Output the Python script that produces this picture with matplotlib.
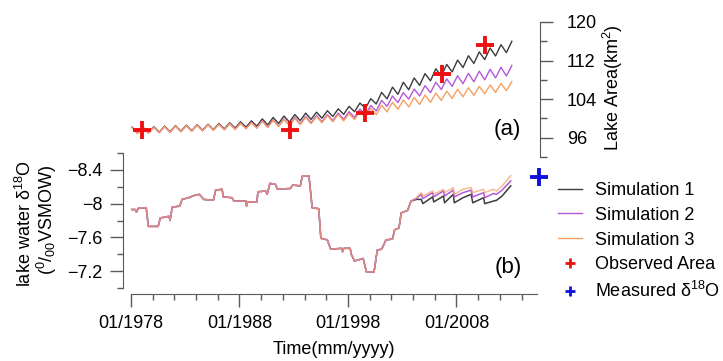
import matplotlib
matplotlib.use("Agg")
import matplotlib.pyplot as plt
from matplotlib.lines import Line2D
from matplotlib.ticker import FixedLocator, FuncFormatter

plt.rcParams['font.family'] = ['Liberation Sans', 'DejaVu Sans']
plt.rcParams['mathtext.fontset'] = 'custom'
plt.rcParams['mathtext.rm'] = 'Liberation Sans'
plt.rcParams['mathtext.it'] = 'Liberation Sans:italic'
plt.rcParams['mathtext.bf'] = 'Liberation Sans:bold'

# ---- lake area (a): yearly high (early in year) and low (mid year) ----
area_years = list(range(1978, 2014))
sim1_high = [98.2, 98.2, 98.3, 98.4, 98.5, 98.6, 98.7, 98.8, 98.95, 99.1, 99.3, 99.5,
             99.9, 100.2, 100.5, 100.8, 101.1, 101.3, 101.6, 102.0, 102.5, 103.2,
             104.1, 105.4, 106.5, 107.5, 108.4, 109.3, 110.3, 111.2, 112.1, 113.0,
             113.8, 114.6, 115.3, 116.0]
sim1_low = [97.0, 97.05, 97.15, 97.25, 97.35, 97.45, 97.55, 97.68, 97.83, 98.0, 98.2, 98.4,
            98.65, 98.95, 99.25, 99.55, 99.8, 100.05, 100.4, 100.85, 101.4, 102.1,
            103.0, 104.05, 105.0, 105.95, 106.85, 107.8, 108.75, 109.65, 110.55, 111.4,
            112.2, 112.95, 113.65]
sim2_high = [98.1, 98.1, 98.2, 98.3, 98.4, 98.5, 98.6, 98.7, 98.8, 98.9, 99.0, 99.2,
             99.5, 99.7, 99.9, 100.2, 100.4, 100.6, 100.8, 101.1, 101.4, 101.95,
             102.7, 103.75, 104.65, 105.35, 106.1, 106.8, 107.5, 108.2, 108.85, 109.35,
             109.8, 110.2, 110.6, 111.0]
sim2_low = [96.9, 96.95, 97.05, 97.15, 97.25, 97.35, 97.45, 97.55, 97.65, 97.75, 97.9, 98.05,
            98.2, 98.4, 98.65, 98.9, 99.1, 99.3, 99.55, 99.85, 100.2, 100.75,
            101.55, 102.5, 103.3, 104.0, 104.65, 105.35, 106.0, 106.65, 107.2, 107.6,
            108.0, 108.4, 108.8]
sim3_high = [98.1, 98.1, 98.2, 98.3, 98.4, 98.5, 98.6, 98.7, 98.8, 98.9, 99.0, 99.1,
             99.4, 99.6, 99.8, 100.0, 100.2, 100.4, 100.6, 100.8, 101.0, 101.45,
             102.1, 102.75, 103.35, 103.85, 104.35, 104.85, 105.25, 105.65, 106.05, 106.35,
             106.65, 106.95, 107.25, 107.65]
sim3_low = [96.9, 96.95, 97.05, 97.15, 97.25, 97.35, 97.45, 97.55, 97.65, 97.75, 97.85, 97.95,
            98.1, 98.3, 98.5, 98.7, 98.9, 99.1, 99.3, 99.5, 99.75, 100.2,
            100.75, 101.35, 101.9, 102.4, 102.9, 103.35, 103.75, 104.15, 104.5, 104.8,
            105.1, 105.4, 105.75]

obs_year = [1979.0, 1992.7, 1999.6, 2006.7, 2010.6]
obs_area = [97.65, 97.5, 101.1, 109.2, 115.3]

# ---- lake water d18O (b) ----
iso_t_common = [1978.0, 1978.4, 1978.5, 1978.7, 1979.4, 1979.6, 1980.5, 1980.7, 1981.5, 1981.6,
                1981.8, 1982.5, 1982.7, 1983.3, 1983.9, 1984.3, 1984.7, 1985.6, 1985.8, 1986.4,
                1986.5, 1987.3, 1987.5, 1988.6, 1988.65, 1988.75, 1989.6, 1989.7, 1990.4, 1990.55,
                1990.8, 1991.3, 1991.5, 1992.7, 1992.9, 1993.6, 1993.8, 1994.4, 1994.7, 1995.3,
                1995.5, 1996.1, 1996.4, 1997.4, 1997.5, 1997.6, 1998.2, 1998.3, 1998.6, 1999.4,
                1999.7, 2000.4, 2000.7, 2001.1, 2001.5, 2002.1, 2002.3, 2002.7, 2002.9, 2003.5,
                2003.8]
iso_common = [-7.93, -7.93, -7.90, -7.95, -7.95, -7.73, -7.73, -7.83, -7.85, -7.80,
              -7.96, -7.97, -8.05, -8.07, -8.10, -8.11, -8.05, -8.04, -8.16, -8.17,
              -8.08, -8.07, -8.03, -8.03, -7.97, -8.02, -8.02, -8.14, -8.15, -8.11,
              -8.24, -8.23, -8.17, -8.18, -8.22, -8.21, -8.33, -8.33, -7.95, -7.94,
              -7.59, -7.57, -7.46, -7.47, -7.43, -7.47, -7.47, -7.40, -7.32, -7.35,
              -7.19, -7.19, -7.45, -7.46, -7.57, -7.58, -7.69, -7.71, -7.89, -7.92,
              -8.03]
iso_t_late = [2004.3, 2004.75, 2004.9, 2005.8, 2005.9, 2006.8, 2006.9, 2007.7, 2007.8, 2008.6,
              2009.35, 2009.5, 2010.5, 2010.6, 2011.4, 2011.7, 2012.2, 2013.0]
iso_sim1_late = [-8.05, -8.05, -8.00, -8.08, -8.02, -8.09, -8.01, -8.11, -8.01, -8.07,
                 -8.11, -8.01, -8.07, -8.00, -8.03, -8.04, -8.09, -8.21]
iso_sim2_late = [-8.06, -8.11, -8.06, -8.13, -8.08, -8.15, -8.09, -8.16, -8.08, -8.13,
                 -8.16, -8.08, -8.13, -8.07, -8.12, -8.11, -8.16, -8.27]
iso_sim3_late = [-8.07, -8.13, -8.09, -8.15, -8.11, -8.17, -8.13, -8.19, -8.11, -8.17,
                 -8.19, -8.13, -8.17, -8.13, -8.17, -8.15, -8.21, -8.33]

meas_year = [2015.6]
meas_d18o = [-8.32]

labels = ['Simulation 1', 'Simulation 2', 'Simulation 3', 'Observed Area', 'Measured δ$^{18}$O']
colors = ['#3c3c3c', '#b458d8', '#f4a062']


def sawtooth(highs, lows):
    t, v = [], []
    for i, yr in enumerate(area_years):
        t.append(yr + 0.1)
        v.append(highs[i])
        if i < len(lows):
            t.append(yr + 0.6)
            v.append(lows[i])
    return t, v


W, H = 723, 361
fig = plt.figure(figsize=(W / 100, H / 100), dpi=100)
xmin, xmax = 1978.0, 2015.42
ax_a = fig.add_axes([131 / W, 1 - 157 / H, 406 / W, 135 / H])
ax_b = fig.add_axes([131 / W, 1 - 288 / H, 406 / W, 135 / H])
for ax in (ax_a, ax_b):
    ax.set_xlim(xmin, xmax)
    ax.patch.set_alpha(0)

spine_col = '#5a5a5a'
tick_kw = dict(direction='out', color=spine_col, width=1.0, labelsize=13, labelcolor='black')

# top panel
for (hi, lo), c in zip([(sim1_high, sim1_low), (sim2_high, sim2_low), (sim3_high, sim3_low)], colors):
    t, v = sawtooth(hi, lo)
    ax_a.plot(t, v, color=c, lw=1.0)
ax_a.plot(obs_year, obs_area, ls='none', marker='+', ms=13, mew=2.8, color='#ee1111', clip_on=False)
ax_a.set_ylim(92, 120)
for s in ('left', 'top', 'bottom'):
    ax_a.spines[s].set_visible(False)
ax_a.spines['right'].set_position(('outward', 2))
ax_a.spines['right'].set_color(spine_col)
ax_a.yaxis.tick_right()
ax_a.set_xticks([])
ax_a.yaxis.set_major_locator(FixedLocator([96, 104, 112, 120]))
ax_a.yaxis.set_minor_locator(FixedLocator([92, 100, 108, 116]))
ax_a.tick_params(axis='y', which='major', length=9.5, pad=10, **tick_kw)
ax_a.tick_params(axis='y', which='minor', length=5, color=spine_col, width=1.0, direction='out')
ax_a.text(507, H - 130, '(a)', transform=None, fontsize=16, ha='center', va='center')

# bottom panel
lates = [iso_sim1_late, iso_sim2_late, iso_sim3_late]
alphas = [1.0, 1.0, 0.7]
for late, c, a in zip(lates, colors, alphas):
    ax_b.plot(iso_t_common + iso_t_late, iso_common + late, color=c, lw=1.1, alpha=a)
ax_b.plot(meas_year, meas_d18o, ls='none', marker='+', ms=13, mew=2.8, color='#1010dd', clip_on=False)
ax_b.set_ylim(-7.0, -8.6)
ax_b.spines['top'].set_visible(False)
ax_b.spines['right'].set_visible(False)
ax_b.spines['left'].set_position(('outward', 6))
ax_b.spines['bottom'].set_position(('outward', 4))
ax_b.spines['left'].set_color(spine_col)
ax_b.spines['bottom'].set_color(spine_col)
ax_b.yaxis.set_major_locator(FixedLocator([-8.4, -8.0, -7.6, -7.2]))
ax_b.yaxis.set_minor_locator(FixedLocator([-8.6, -8.2, -7.8, -7.4, -7.0]))
ax_b.yaxis.set_major_formatter(FuncFormatter(lambda v, p: ('%g' % v).replace('-', '\u2212')))
ax_b.xaxis.set_major_locator(FixedLocator([1978, 1988, 1998, 2008]))
ax_b.xaxis.set_minor_locator(FixedLocator(list(range(1980, 2016, 2))))
ax_b.xaxis.set_major_formatter(FuncFormatter(lambda v, p: '01/%d' % round(v)))
ax_b.tick_params(axis='y', which='major', length=9.5, pad=5, **tick_kw)
ax_b.tick_params(axis='x', which='major', length=9.5, pad=6, **tick_kw)
ax_b.tick_params(which='minor', length=4.5, color=spine_col, width=1.0, direction='out')
ax_b.text(508, H - 268, '(b)', transform=None, fontsize=16, ha='center', va='center')

# axis titles
fig.text(25 / W, 1 - 224 / H, 'lake water δ$^{18}$O', rotation=90, fontsize=13, ha='center', va='center')
fig.text(47 / W, 1 - 220 / H, '($^{0}$/$_{00}$VSMOW)', rotation=90, fontsize=13, ha='center', va='center')
fig.text(613 / W, 1 - 88 / H, 'Lake Area(km$^{2}$)', rotation=90, fontsize=13, ha='center', va='center')
fig.text(334 / W, 1 - 350 / H, 'Time(mm/yyyy)', fontsize=13, ha='center', va='center')

# legend
handles = [Line2D([], [], color=c, lw=1.0) for c in colors]
handles.append(Line2D([], [], ls='none', marker='+', ms=7, mew=2, color='#ee1111'))
handles.append(Line2D([], [], ls='none', marker='+', ms=7, mew=2, color='#1010dd'))
fig.legend(handles, labels, loc='upper left', bbox_to_anchor=(558 / W, 1 - 182 / H),
           frameon=False, fontsize=13, borderpad=0, borderaxespad=0,
           handlelength=1.33, handletextpad=0.72, labelspacing=0.43)

fig.savefig('out.png', dpi=100)
